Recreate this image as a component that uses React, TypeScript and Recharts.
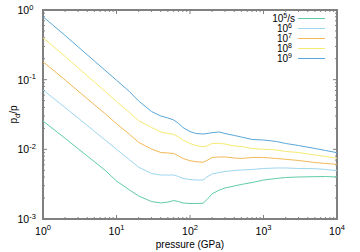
import React from 'react';
import { LineChart, Line, XAxis, YAxis, Label, Legend, ReferenceLine, ReferenceArea } from 'recharts';

// pressure (GPa)
const pressure = [1, 2, 3, 5, 7, 10, 15, 20, 30, 40, 50, 60, 70, 80, 100, 120, 150, 170, 200, 250, 300, 400, 500, 700, 1000, 1500, 2000, 3000, 5000, 7000, 10000];

// p_d/p for each strain rate
const rate1e5 = [0.0255, 0.0144, 0.0102, 0.00665, 0.005, 0.00351, 0.00261, 0.00214, 0.00178, 0.0017, 0.00175, 0.00184, 0.00178, 0.0017, 0.00167, 0.00167, 0.00168, 0.0019, 0.0023, 0.0026, 0.00279, 0.00298, 0.00313, 0.00334, 0.00363, 0.00382, 0.00394, 0.00401, 0.00405, 0.00407, 0.00401];
const rate1e6 = [0.0711, 0.0397, 0.0282, 0.01816, 0.01362, 0.01001, 0.0071, 0.00554, 0.0045, 0.00428, 0.00428, 0.00428, 0.00407, 0.00382, 0.00369, 0.00363, 0.00363, 0.00401, 0.00443, 0.00465, 0.00481, 0.00497, 0.00505, 0.00514, 0.00531, 0.0054, 0.0054, 0.00531, 0.00528, 0.00514, 0.00494];
const rate1e7 = [0.1811, 0.0989, 0.0688, 0.0437, 0.0325, 0.0233, 0.01644, 0.01262, 0.0101, 0.00901, 0.00886, 0.00872, 0.00803, 0.00739, 0.00687, 0.00665, 0.00652, 0.00692, 0.00764, 0.00777, 0.00777, 0.00751, 0.00739, 0.00764, 0.00764, 0.00739, 0.0072, 0.00692, 0.00647, 0.00626, 0.0061];
const rate1e8 = [0.4, 0.2151, 0.148, 0.0926, 0.0681, 0.0486, 0.0338, 0.0258, 0.0206, 0.01774, 0.01688, 0.01644, 0.01504, 0.01362, 0.01213, 0.01136, 0.01091, 0.01117, 0.01213, 0.01221, 0.01193, 0.01117, 0.01098, 0.01028, 0.01001, 0.00979, 0.00931, 0.00901, 0.00829, 0.0079, 0.00744];
const rate1e9 = [0.801, 0.4305, 0.2965, 0.1854, 0.1363, 0.098, 0.0676, 0.0494, 0.0349, 0.0301, 0.0282, 0.0264, 0.0235, 0.0206, 0.018, 0.01687, 0.0166, 0.01687, 0.01734, 0.01774, 0.01687, 0.01581, 0.01503, 0.01384, 0.01362, 0.01297, 0.01213, 0.01135, 0.01028, 0.00962, 0.00895];

const seriesKeys = ['r5', 'r6', 'r7', 'r8', 'r9'];
const seriesExp = ['5', '6', '7', '8', '9'];
const seriesSuffix = ['/s', '', '', '', ''];
const seriesColors = ['#5fcca3', '#9dd6ef', '#f2b956', '#f6ea72', '#5aa6d6'];
const seriesValues = [rate1e5, rate1e6, rate1e7, rate1e8, rate1e9];

const xMajor = [1, 10, 100, 1000, 10000];
const yMajor = [0.001, 0.01, 0.1, 1];
const xMinor: number[] = [];
[1, 10, 100, 1000].forEach((d) => { for (let m = 2; m <= 9; m++) xMinor.push(d * m); });
const yMinor: number[] = [];
[0.001, 0.01, 0.1].forEach((d) => { for (let m = 2; m <= 9; m++) yMinor.push(+(d * m).toPrecision(3)); });

const data = pressure.map((p, i) => {
  const row: Record<string, number> = { p };
  seriesKeys.forEach((k, j) => { row[k] = seriesValues[j][i]; });
  return row;
});

const FONT = '"Liberation Sans", Arial, sans-serif';
const GRAY = '#808080';

const XTick = (props: any) => {
  const { x, y, payload } = props;
  const e = Math.round(Math.log10(payload.value));
  return (
    <text x={x} y={y + 15.5} textAnchor="middle" fontFamily={FONT} fontSize={10.5} fill="#000">
      <tspan>10</tspan>
      <tspan dy={-4.5} fontSize={7.5}>{e}</tspan>
    </text>
  );
};

const YTick = (props: any) => {
  const { x, y, payload } = props;
  const e = Math.round(Math.log10(payload.value));
  return (
    <text x={x - 25.5} y={y + 4} textAnchor="start" fontFamily={FONT} fontSize={10.5} fill="#000">
      <tspan>10</tspan>
      <tspan dy={-4.5} fontSize={7.5}>{e}</tspan>
    </text>
  );
};

const XTitle = (props: any) => {
  const vb = props.viewBox || {};
  return (
    <text x={vb.x + vb.width / 2} y={vb.y + 29} textAnchor="middle" fontFamily={FONT} fontSize={10} fill="#000">
      pressure (GPa)
    </text>
  );
};

const YTitle = (props: any) => {
  const vb = props.viewBox || {};
  const cx = vb.x + 17;
  const cy = vb.y + vb.height / 2;
  return (
    <text x={cx} y={cy} transform={`rotate(-90, ${cx}, ${cy})`} textAnchor="middle" fontFamily={FONT} fontSize={10} fill="#000">
      <tspan>p</tspan>
      <tspan dy={3} fontSize={7.5}>d</tspan>
      <tspan dy={-3}>/p</tspan>
    </text>
  );
};

// inward tick marks on both opposite sides of the frame
const vTickShape = (len: number) => (props: any) => {
  const { x1, y1, y2 } = props;
  if (x1 == null || isNaN(x1)) return <g />;
  const top = Math.min(y1, y2);
  const bot = Math.max(y1, y2);
  return (
    <g>
      <line x1={x1} x2={x1} y1={bot} y2={bot - len} stroke={GRAY} strokeWidth={1} />
      <line x1={x1} x2={x1} y1={top} y2={top + len} stroke={GRAY} strokeWidth={1} />
    </g>
  );
};
const hTickShape = (len: number) => (props: any) => {
  const { x1, x2, y1 } = props;
  if (y1 == null || isNaN(y1)) return <g />;
  const left = Math.min(x1, x2);
  const right = Math.max(x1, x2);
  return (
    <g>
      <line x1={left} x2={left + len} y1={y1} y2={y1} stroke={GRAY} strokeWidth={1} />
      <line x1={right} x2={right - len} y1={y1} y2={y1} stroke={GRAY} strokeWidth={1} />
    </g>
  );
};

const LegendBox = () => (
  <svg width={90} height={56} style={{ display: 'block', overflow: 'visible' }}>
    {seriesKeys.map((k, i) => {
      const cy = 8.5 + 10 * i;
      return (
        <g key={k}>
          <text x={seriesSuffix[i] ? 45 : 42} y={cy + 3.5} textAnchor="end" fontFamily={FONT} fontSize={10} fill="#000">
            <tspan>10</tspan>
            <tspan dy={-4} fontSize={7}>{seriesExp[i]}</tspan>
            {seriesSuffix[i] ? <tspan dy={4}>{seriesSuffix[i]}</tspan> : null}
          </text>
          <line x1={48} x2={75} y1={cy} y2={cy} stroke={seriesColors[i]} strokeWidth={1} />
        </g>
      );
    })}
  </svg>
);

export default function App() {
  return (
    <div style={{ position: 'fixed', left: 0, top: 0, width: 360, height: 252, background: '#fff' }}>
      <LineChart width={360} height={252} data={data} margin={{ top: 10, right: 23, bottom: 0, left: 0 }}>
        <XAxis xAxisId="b" type="number" dataKey="p" scale="log" domain={[1, 10000]} allowDataOverflow interval={0}
          ticks={xMajor} height={33} tickSize={0} tickMargin={0} tickLine={false} axisLine={false} tick={<XTick />}>
          <Label content={<XTitle />} />
        </XAxis>
        <YAxis yAxisId="l" type="number" scale="log" domain={[0.001, 1]} allowDataOverflow interval={0}
          ticks={yMajor} width={43} tickSize={0} tickMargin={0} tickLine={false} axisLine={false} tick={<YTick />}>
          <Label content={<YTitle />} />
        </YAxis>

        {xMinor.map((v) => (
          <ReferenceLine key={`xm${v}`} xAxisId="b" yAxisId="l" x={v} ifOverflow="visible" shape={vTickShape(2)} />
        ))}
        {xMajor.map((v) => (
          <ReferenceLine key={`xM${v}`} xAxisId="b" yAxisId="l" x={v} ifOverflow="visible" shape={vTickShape(4)} />
        ))}
        {yMinor.map((v) => (
          <ReferenceLine key={`ym${v}`} xAxisId="b" yAxisId="l" y={v} ifOverflow="visible" shape={hTickShape(2)} />
        ))}
        {yMajor.map((v) => (
          <ReferenceLine key={`yM${v}`} xAxisId="b" yAxisId="l" y={v} ifOverflow="visible" shape={hTickShape(4)} />
        ))}

        {seriesKeys.map((k, i) => (
          <Line key={k} xAxisId="b" yAxisId="l" type="linear" dataKey={k} stroke={seriesColors[i]} strokeWidth={1}
            dot={false} activeDot={false} isAnimationActive={false} />
        ))}

        <ReferenceArea xAxisId="b" yAxisId="l" x1={1} x2={10000} y1={0.001} y2={1} ifOverflow="visible"
          fill="none" fillOpacity={0} stroke={GRAY} strokeWidth={2} />

        <Legend layout="vertical" align="center" verticalAlign="middle" content={() => <LegendBox />}
          wrapperStyle={{ position: 'absolute', left: 250, top: 10, width: 90, height: 56, margin: 0 }} />
      </LineChart>
    </div>
  );
}
